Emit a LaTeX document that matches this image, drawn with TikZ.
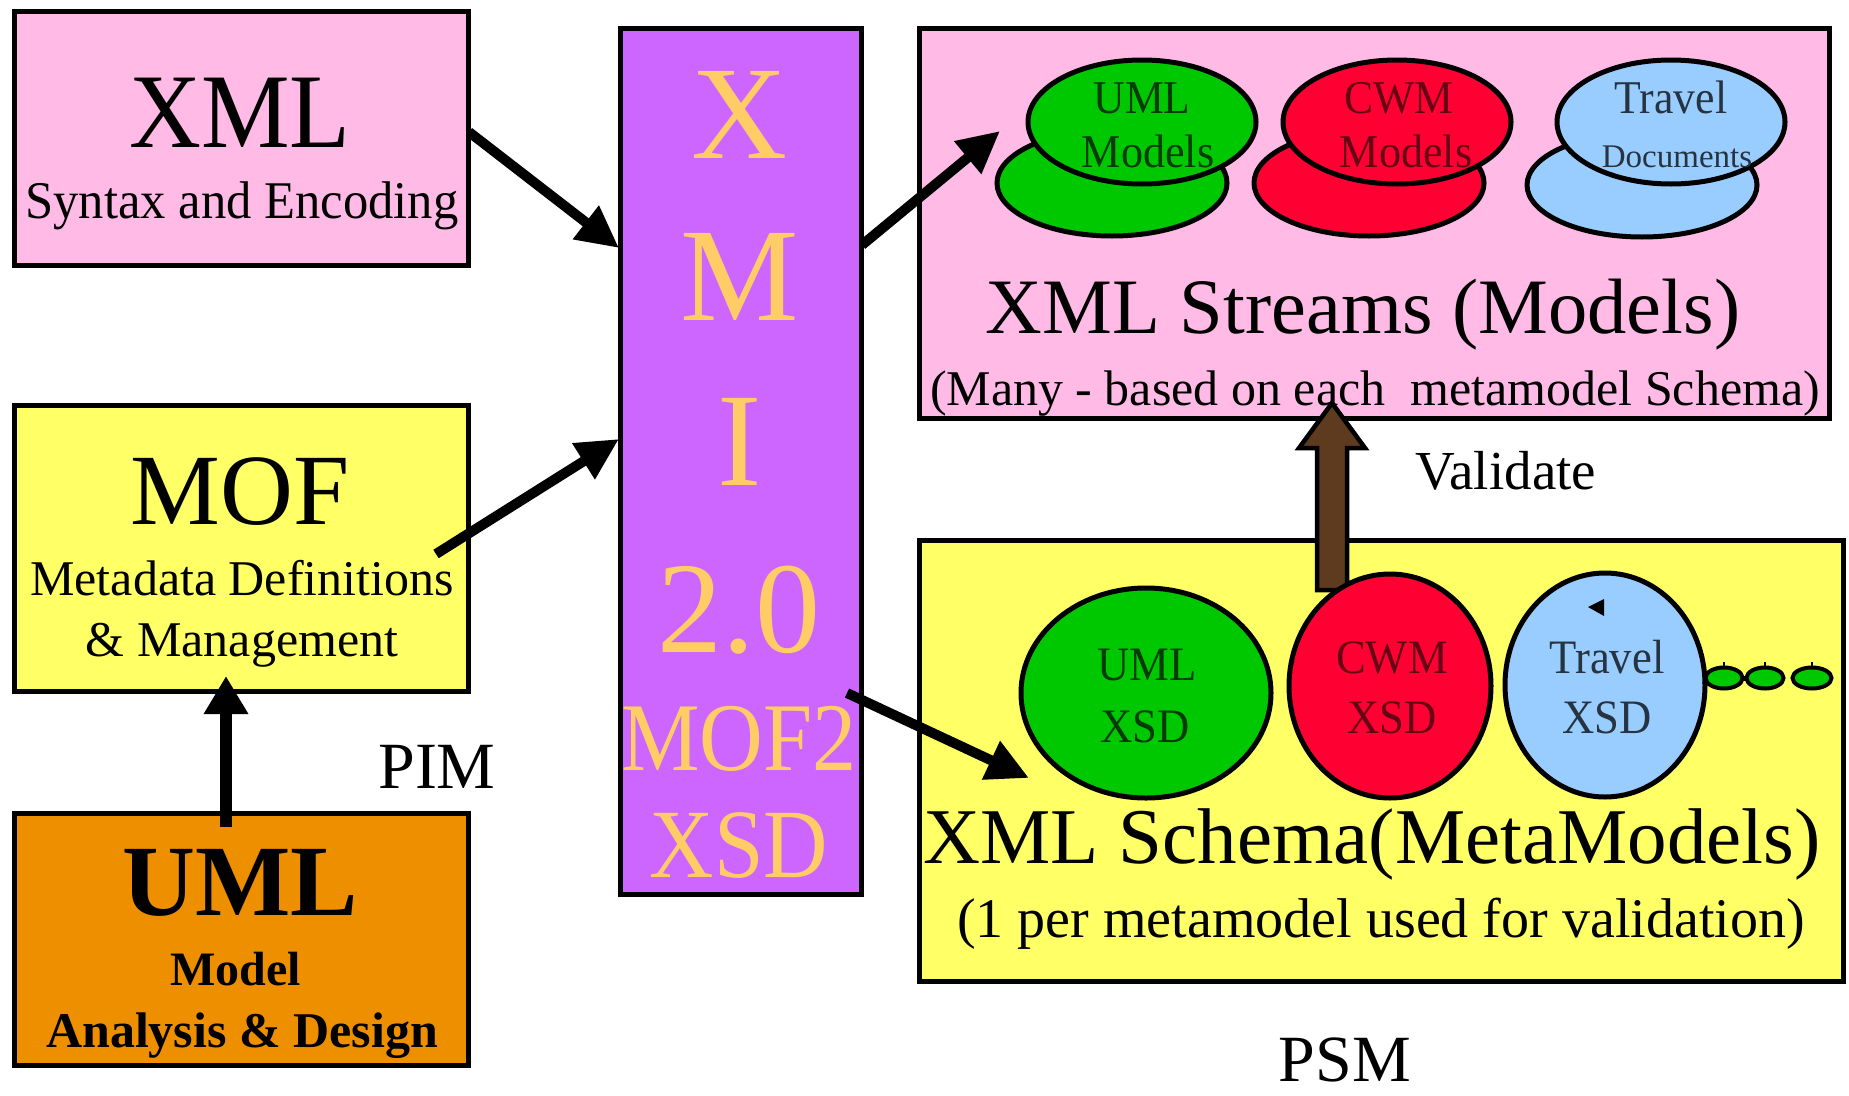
\documentclass[tikz,border=0pt]{standalone}
\usepackage{graphicx}
\usepackage{fontspec}
\setmainfont{Liberation Serif}
\usetikzlibrary{arrows.meta,shapes.geometric}

\newcommand\fsz[1]{\fontsize{#1}{#1}\selectfont}
\newcommand\sqz[2]{\scalebox{#1}[1]{#2}}

\definecolor{boxpink}{RGB}{255,187,230}
\definecolor{boxyellow}{RGB}{255,255,102}
\definecolor{boxorange}{RGB}{238,143,0}
\definecolor{boxpurple}{RGB}{204,102,255}
\definecolor{xmiletter}{RGB}{255,204,102}
\definecolor{blobgreen}{RGB}{0,200,0}
\definecolor{blobred}{RGB}{255,0,51}
\definecolor{blobblue}{RGB}{153,204,255}
\definecolor{valbrown}{RGB}{94,58,31}
\colorlet{greentext}{blobgreen!30!black}
\colorlet{redtext}{blobred!40!black}
\colorlet{bluetext}{blobblue!25!black}

\begin{document}
\begin{tikzpicture}[x=1pt,y=-1pt,
  box/.style={draw=black,line width=5pt,inner sep=0pt,outer sep=0pt,anchor=north west},
  lbl/.style={anchor=base,inner sep=0pt,outer sep=0pt},
  blob/.style={ellipse,draw=black,line width=5pt,inner sep=0pt,outer sep=0pt},
  dot/.style={ellipse,draw=black,line width=4pt,fill=blobgreen,inner sep=0pt,outer sep=0pt,
              minimum height=21pt},
  link/.style={line width=10pt,-{Triangle[length=42pt,width=40pt]}},
  valarrow/.style={draw=black,fill=valbrown,line width=4.5pt,line join=miter},
]
\path[fill=white] (0,0) rectangle (1849,1095);
\useasboundingbox (0,0) rectangle (1849,1095);

% ---------- left column ----------
\node[box,fill=boxpink,minimum width=454pt,minimum height=254pt] (xmlbox) at (14,11) {};
\node[lbl,font=\fsz{106}] (xmlT) at (240,147) {\sqz{0.94}{XML}};
\node[lbl,font=\fsz{53}] (xmlS) at (242,218) {\sqz{0.955}{Syntax and Encoding}};

\node[box,fill=boxyellow,minimum width=454pt,minimum height=286pt] (mofbox) at (14,405) {};
\node[lbl,font=\fsz{101}] (mofT) at (240,524) {MOF};
\node[lbl,font=\fsz{50}] (mofS1) at (242,595) {Metadata Definitions};
\node[lbl,font=\fsz{50}] (mofS2) at (242,656) {\& Management};

\node[box,fill=boxorange,minimum width=454pt,minimum height=252pt] (umlbox) at (14,813) {};
\node[lbl,font=\fsz{101}\bfseries] (umlT) at (240,915) {UML};
\node[lbl,font=\fsz{48}\bfseries] (umlS1) at (236,985) {Model};
\node[lbl,font=\fsz{50}\bfseries] (umlS2) at (242,1047) {Analysis \& Design};

\node[lbl,font=\fsz{66}] (pim) at (437,788) {PIM};

% ---------- XMI column ----------
\node[box,fill=boxpurple,minimum width=241pt,minimum height=866pt] (xmibox) at (620,28) {};
\begin{scope}[every node/.append style={lbl,text=xmiletter}]
  \node[font=\fsz{133}] (xmiX) at (740,158) {X};
  \node[font=\fsz{133}] (xmiM) at (740,320) {M};
  \node[font=\fsz{133}] (xmiI) at (740,485) {I};
  \node[font=\fsz{130}] (xmiV) at (739,652) {2.0};
  \node[font=\fsz{97}] (xmiMof) at (739,770) {\sqz{0.91}{MOF2}};
  \node[font=\fsz{98}] (xmiXsd) at (739,877) {\sqz{0.91}{XSD}};
\end{scope}

% ---------- XML streams ----------
\node[box,fill=boxpink,minimum width=910pt,minimum height=390pt] (streambox) at (919,28) {};
\node[blob,fill=blobgreen,minimum width=230pt,minimum height=106pt] (umlBack) at (1112,183) {};
\node[blob,fill=blobred,minimum width=230pt,minimum height=106pt] (cwmBack) at (1369,183) {};
\node[blob,fill=blobblue,minimum width=230pt,minimum height=104pt] (trvBack) at (1642,185) {};
\node[blob,fill=blobgreen,minimum width=228pt,minimum height=124pt] (umlFront) at (1142,122) {};
\node[blob,fill=blobred,minimum width=228pt,minimum height=124pt] (cwmFront) at (1397,122) {};
\node[blob,fill=blobblue,minimum width=228pt,minimum height=124pt] (trvFront) at (1671,122) {};
\node[lbl,font=\fsz{47},text=greentext] (umlM1) at (1142,113) {\sqz{0.93}{UML}};
\node[lbl,font=\fsz{47},text=greentext] (umlM2) at (1148,167) {\sqz{0.94}{Models}};
\node[lbl,font=\fsz{47},text=redtext] (cwmM1) at (1399,113) {\sqz{0.93}{CWM}};
\node[lbl,font=\fsz{47},text=redtext] (cwmM2) at (1406,167) {\sqz{0.94}{Models}};
\node[lbl,font=\fsz{47},text=bluetext] (trvM1) at (1671,113) {\sqz{0.93}{Travel}};
\node[lbl,font=\fsz{33},text=bluetext] (trvM2) at (1677,167) {Documents};
\node[lbl,font=\fsz{78.5}] (streamT) at (1363,333) {XML Streams (Models)};
\node[lbl,font=\fsz{50}] (streamS) at (1375,405) {(Many - based on each\ \ metamodel Schema)};

\node[lbl,font=\fsz{55}] (validate) at (1506,489) {Validate};

% ---------- XML schema ----------
\node[box,fill=boxyellow,minimum width=924pt,minimum height=441pt] (schemabox) at (919,540) {};

% validation arrow, from the CWM schema up to the streams
\coordinate (valFrom) at (1332,590);
\coordinate (valTo) at (1332,403);
\draw[valarrow] ([xshift=-15pt]valFrom) -- ([xshift=-15pt,yshift=-45pt]valTo)
  -- ([xshift=-33pt,yshift=-45pt]valTo) -- (valTo)
  -- ([xshift=33pt,yshift=-45pt]valTo) -- ([xshift=15pt,yshift=-45pt]valTo)
  -- ([xshift=15pt]valFrom) -- cycle;

\node[blob,fill=blobgreen,minimum width=250pt,minimum height=210pt] (umlXsd) at (1146,693) {};
\node[blob,fill=blobred,minimum width=202pt,minimum height=224pt] (cwmXsd) at (1390,686) {};
\node[blob,fill=blobblue,minimum width=200pt,minimum height=224pt] (trvXsd) at (1605,685) {};
\node[lbl,font=\fsz{48},text=greentext] (umlX1) at (1147,680) {\sqz{0.93}{UML}};
\node[lbl,font=\fsz{48},text=greentext] (umlX2) at (1145,742) {\sqz{0.93}{XSD}};
\node[lbl,font=\fsz{48},text=redtext] (cwmX1) at (1392,673) {\sqz{0.93}{CWM}};
\node[lbl,font=\fsz{48},text=redtext] (cwmX2) at (1392,733) {\sqz{0.93}{XSD}};
\node[lbl,font=\fsz{48},text=bluetext] (trvX1) at (1607,673) {\sqz{0.93}{Travel}};
\node[lbl,font=\fsz{48},text=bluetext] (trvX2) at (1607,733) {\sqz{0.93}{XSD}};
\fill[black] (1588,607) -- (1604,599) -- (1604,616) -- cycle;

% chain of further schemas
\node[dot,minimum width=37pt] (more1) at (1724,678) {};
\node[dot,minimum width=37pt] (more2) at (1765,678) {};
\node[dot,minimum width=39pt] (more3) at (1812,678) {};
\draw[line width=5pt] (trvXsd.east) -- (more1.west);
\draw[line width=5pt] (more1.east) -- (more2.west);
\draw[line width=2.5pt] (more1.north) -- ++(0,-6);
\draw[line width=2.5pt] (more2.north) -- ++(0,-6);
\draw[line width=2.5pt] (more3.north) -- ++(0,-6);

\node[lbl,font=\fsz{79}] (schemaT) at (1372,863) {XML Schema(MetaModels)};
\node[lbl,font=\fsz{56}] (schemaS) at (1381,937) {(1 per metamodel used for validation)};

\node[lbl,font=\fsz{66}] (psm) at (1345,1081) {PSM};

% ---------- connectors ----------
\coordinate (xmlOut) at (469,132);
\coordinate (xmiInA) at (619,248);
\coordinate (mofOut) at (436,554);
\coordinate (xmiInB) at (619,439);
\coordinate (xmiOutA) at (862,245);
\coordinate (streamIn) at (1000,131);
\coordinate (xmiOutB) at (847,693);
\coordinate (schemaIn) at (1029,778);
\coordinate (umlOut) at (226,827);
\coordinate (mofIn) at (226,676);

\draw[link] (xmlOut) -- (xmiInA);
\draw[link] (mofOut) -- (xmiInB);
\draw[link] (xmiOutA) -- (streamIn);
\draw[link] (xmiOutB) -- (schemaIn);
\draw[line width=12pt,-{Triangle[length=38pt,width=42pt]}] (umlOut) -- (mofIn);
\end{tikzpicture}
\end{document}
